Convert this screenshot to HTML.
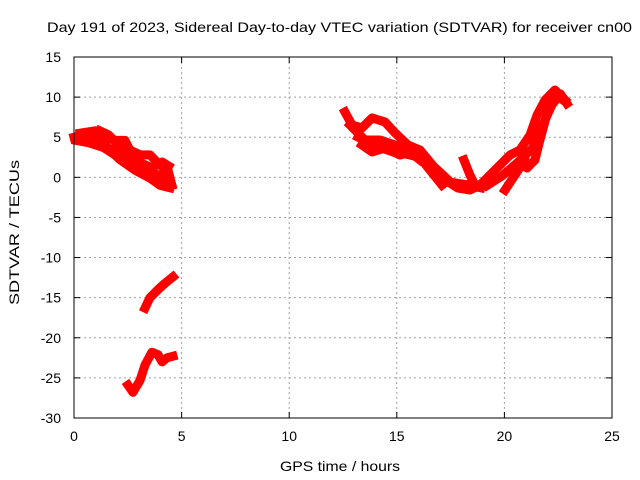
<!DOCTYPE html>
<html><head><meta charset="utf-8"><style>
body{margin:0;background:#fff}
svg{display:block;font-family:"Liberation Sans",sans-serif}
</style></head><body>
<svg id="chart" width="640" height="480">
<text x="47" y="32" font-size="14" textLength="585" lengthAdjust="spacingAndGlyphs">Day 191 of 2023, Sidereal Day-to-day VTEC variation (SDTVAR) for receiver cn00</text>
<text x="280" y="471" font-size="14" textLength="120" lengthAdjust="spacingAndGlyphs">GPS time / hours</text>
<text transform="translate(19,305) rotate(-90)" font-size="14" textLength="145" lengthAdjust="spacingAndGlyphs">SDTVAR / TECUs</text>
<g id="grid"></g><g id="ticks"></g><g id="series"></g>
<rect x="74" y="57" width="538" height="361" fill="none" stroke="#000" stroke-width="1"/>
</svg>
<script>
const xTicks=[0,5,10,15,20,25];
const yTicks=[15,10,5,0,-5,-10,-15,-20,-25,-30];
const trackA=[[0,5.0],[0.74,5.5],[1.21,4.65],[1.67,3.4],[2.14,2.2],[2.83,0.9],[3.53,-0.1],[4.0,-1.0],[4.46,-1.3]];
const trackB=[[0.28,5.5],[0.98,5.8],[1.44,5.0],[1.9,4.6],[2.37,4.6],[2.6,3.4],[3.07,2.8],[3.53,2.8],[4.0,1.5],[4.37,0.9],[4.55,-1.0]];
const trackC=[[1.21,4.0],[1.9,2.8],[2.6,1.9],[3.3,0.9],[3.76,-0.3],[4.23,-0.7]];
const trackC2=[[0.1,4.6],[0.7,4.3],[1.4,3.7],[2.0,3.4],[2.6,2.5],[3.2,1.6],[3.7,0.4],[4.3,0.2],[4.5,-0.8]];
const trackC3=[[1.2,5.8],[1.6,5.3],[2.1,4.0],[2.5,3.0],[3.1,1.8],[3.6,1.2],[4.1,1.9],[4.4,1.4]];
const trackMid=[[3.3,-16.3],[3.53,-15.0],[3.9,-14.0],[4.23,-13.2],[4.6,-12.4]];
const trackLow=[[2.51,-25.9],[2.74,-26.8],[3.07,-25.3],[3.3,-23.4],[3.62,-21.8],[3.9,-22.1],[4.09,-23.0],[4.32,-22.5],[4.6,-22.3]];
const trackD=[[12.59,8.14],[12.92,6.52],[13.38,6.15],[13.85,7.4],[14.45,6.9],[14.92,5.53],[15.52,4.03],[16.08,3.41],[16.54,1.91],[17.24,-0.33],[17.84,-1.33],[18.4,-1.58],[18.87,-0.96],[19.33,0.29],[19.8,1.54],[20.26,2.78],[20.72,3.41],[21.19,5.28],[21.52,7.77],[21.89,9.64],[22.35,10.89],[22.58,10.26],[22.82,9.64]];
const trackE=[[12.83,6.52],[13.52,4.65],[14.22,4.65],[14.92,4.03],[15.38,3.41],[15.99,2.78],[16.54,0.91],[17.1,-0.96]];
const trackE2=[[13.2,5.0],[14.0,3.9],[14.8,3.2],[15.6,2.8],[16.3,2.3],[16.9,0.9],[17.5,-0.6],[18.2,-0.9],[18.9,-1.3]];
const trackF=[[13.38,4.03],[13.85,3.16],[14.45,3.66],[15.15,2.78],[15.61,3.16],[16.08,2.16]];
const trackG=[[20.03,-1.58],[20.49,0.29],[20.96,2.16],[21.05,1.16],[21.42,2.16],[21.65,4.65],[22.03,8.4],[22.4,10.26],[22.72,9.64]];
const trackG2=[[19.2,-1.0],[19.9,0.2],[20.6,1.8],[21.3,3.6],[21.8,6.6],[22.2,9.0],[22.6,10.4],[22.9,9.2]];
const trackH=[[18.12,2.16],[18.4,0.29],[18.63,-0.96]];
const tracks=[trackA,trackB,trackC,trackC2,trackC3,trackMid,trackLow,trackD,trackE,trackE2,trackF,trackG,trackG2,trackH];
const X0=74,X1=612,Y0=57,Y1=418,xmin=0,xmax=25,ymin=-30,ymax=15;
const sx=v=>X0+(v-xmin)/(xmax-xmin)*(X1-X0);
const sy=v=>Y1-(v-ymin)/(ymax-ymin)*(Y1-Y0);
const NS="http://www.w3.org/2000/svg";
const grid=document.getElementById('grid'),ticks=document.getElementById('ticks'),ser=document.getElementById('series');
function mk(t,a,p){const e=document.createElementNS(NS,t);for(const k in a)e.setAttribute(k,a[k]);p.appendChild(e);return e;}
xTicks.forEach(v=>{const x=sx(v);
 if(v>xmin&&v<xmax){const g=mk('line',{x1:x,x2:x,y1:Y0,y2:Y1,stroke:'#a0a0a0','stroke-dasharray':'2,3'},grid);
 
 }
 mk('line',{x1:x,x2:x,y1:Y1,y2:Y1-6,stroke:'#000'},ticks);mk('line',{x1:x,x2:x,y1:Y0,y2:Y0+6,stroke:'#000'},ticks);
 const t=mk('text',{x:x,y:Y1+23,'font-size':14,'text-anchor':'middle'},ticks);t.textContent=v;
 
 });
yTicks.forEach(v=>{const y=sy(v);
 if(v>ymin&&v<ymax){const g=mk('line',{x1:X0,x2:X1,y1:y,y2:y,stroke:'#a0a0a0','stroke-dasharray':'2,3'},grid);
 
 }
 mk('line',{x1:X0,x2:X0+6,y1:y,y2:y,stroke:'#000'},ticks);mk('line',{x1:X1,x2:X1-6,y1:y,y2:y,stroke:'#000'},ticks);
 const t=mk('text',{x:X0-13,y:y+5,'font-size':14,'text-anchor':'end'},ticks);t.textContent=v;
 
 });
tracks.forEach(tr=>{const p=mk('polyline',{points:tr.map(d=>sx(d[0])+','+sy(d[1])).join(' '),fill:'none',stroke:'#ff0000','stroke-width':9,'stroke-linejoin':'round','stroke-linecap':'square'},ser);
 
 });
</script>
</body></html>
